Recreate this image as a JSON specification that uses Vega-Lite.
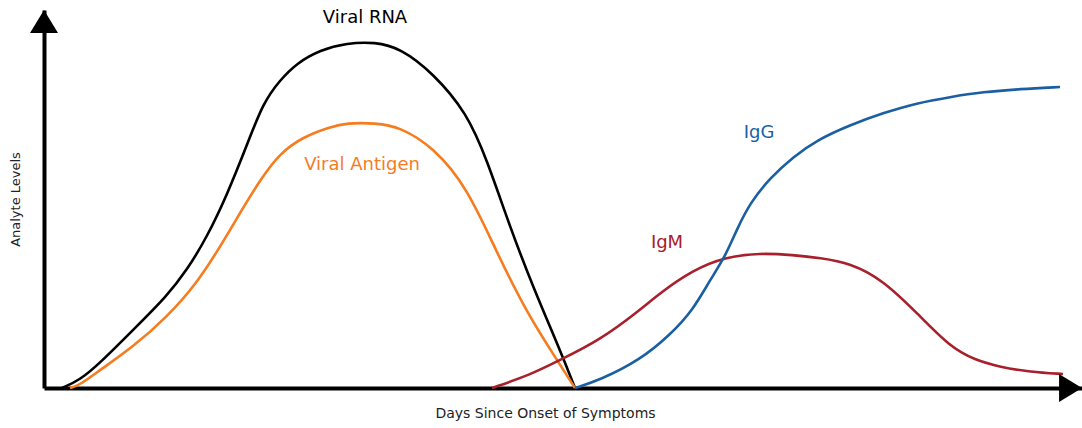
{
  "$schema": "https://vega.github.io/schema/vega-lite/v6.json",
  "width": 1038,
  "height": 378,
  "autosize": {"type": "none"},
  "padding": {"left": 44, "top": 10, "right": 0, "bottom": 40},
  "background": "white",
  "config": {"view": {"stroke": null}, "font": "DejaVu Sans"},
  "datasets": {
    "curves": [
      {"series": "Viral RNA", "day": 18, "level": 0},
      {"series": "Viral RNA", "day": 36, "level": 8},
      {"series": "Viral RNA", "day": 56, "level": 25},
      {"series": "Viral RNA", "day": 89, "level": 58},
      {"series": "Viral RNA", "day": 123, "level": 92},
      {"series": "Viral RNA", "day": 143, "level": 118},
      {"series": "Viral RNA", "day": 163, "level": 151},
      {"series": "Viral RNA", "day": 183, "level": 193},
      {"series": "Viral RNA", "day": 203, "level": 243},
      {"series": "Viral RNA", "day": 219, "level": 285},
      {"series": "Viral RNA", "day": 236, "level": 308},
      {"series": "Viral RNA", "day": 253, "level": 325},
      {"series": "Viral RNA", "day": 276, "level": 338},
      {"series": "Viral RNA", "day": 303, "level": 345},
      {"series": "Viral RNA", "day": 331, "level": 346},
      {"series": "Viral RNA", "day": 356, "level": 340},
      {"series": "Viral RNA", "day": 389, "level": 315},
      {"series": "Viral RNA", "day": 423, "level": 275},
      {"series": "Viral RNA", "day": 443, "level": 228},
      {"series": "Viral RNA", "day": 466, "level": 161},
      {"series": "Viral RNA", "day": 489, "level": 101},
      {"series": "Viral RNA", "day": 516, "level": 38},
      {"series": "Viral RNA", "day": 531, "level": 0},
      {"series": "Viral Antigen", "day": 26, "level": 0},
      {"series": "Viral Antigen", "day": 36, "level": 3},
      {"series": "Viral Antigen", "day": 56, "level": 18},
      {"series": "Viral Antigen", "day": 89, "level": 41},
      {"series": "Viral Antigen", "day": 123, "level": 71},
      {"series": "Viral Antigen", "day": 153, "level": 105},
      {"series": "Viral Antigen", "day": 176, "level": 141},
      {"series": "Viral Antigen", "day": 196, "level": 175},
      {"series": "Viral Antigen", "day": 216, "level": 208},
      {"series": "Viral Antigen", "day": 236, "level": 235},
      {"series": "Viral Antigen", "day": 259, "level": 251},
      {"series": "Viral Antigen", "day": 286, "level": 261},
      {"series": "Viral Antigen", "day": 303, "level": 265},
      {"series": "Viral Antigen", "day": 331, "level": 265},
      {"series": "Viral Antigen", "day": 356, "level": 261},
      {"series": "Viral Antigen", "day": 389, "level": 241},
      {"series": "Viral Antigen", "day": 423, "level": 201},
      {"series": "Viral Antigen", "day": 453, "level": 135},
      {"series": "Viral Antigen", "day": 483, "level": 75},
      {"series": "Viral Antigen", "day": 513, "level": 28},
      {"series": "Viral Antigen", "day": 531, "level": 0},
      {"series": "IgM", "day": 448, "level": 0},
      {"series": "IgM", "day": 486, "level": 13},
      {"series": "IgM", "day": 516, "level": 28},
      {"series": "IgM", "day": 556, "level": 48},
      {"series": "IgM", "day": 596, "level": 78},
      {"series": "IgM", "day": 616, "level": 95},
      {"series": "IgM", "day": 649, "level": 118},
      {"series": "IgM", "day": 681, "level": 131},
      {"series": "IgM", "day": 716, "level": 135},
      {"series": "IgM", "day": 749, "level": 133},
      {"series": "IgM", "day": 776, "level": 130},
      {"series": "IgM", "day": 806, "level": 125},
      {"series": "IgM", "day": 839, "level": 108},
      {"series": "IgM", "day": 873, "level": 75},
      {"series": "IgM", "day": 906, "level": 41},
      {"series": "IgM", "day": 931, "level": 28},
      {"series": "IgM", "day": 956, "level": 21},
      {"series": "IgM", "day": 986, "level": 16},
      {"series": "IgM", "day": 1019, "level": 14},
      {"series": "IgG", "day": 531, "level": 0},
      {"series": "IgG", "day": 556, "level": 8},
      {"series": "IgG", "day": 596, "level": 28},
      {"series": "IgG", "day": 626, "level": 53},
      {"series": "IgG", "day": 649, "level": 78},
      {"series": "IgG", "day": 666, "level": 108},
      {"series": "IgG", "day": 681, "level": 131},
      {"series": "IgG", "day": 693, "level": 159},
      {"series": "IgG", "day": 706, "level": 185},
      {"series": "IgG", "day": 726, "level": 210},
      {"series": "IgG", "day": 749, "level": 231},
      {"series": "IgG", "day": 773, "level": 248},
      {"series": "IgG", "day": 806, "level": 263},
      {"series": "IgG", "day": 839, "level": 275},
      {"series": "IgG", "day": 873, "level": 285},
      {"series": "IgG", "day": 906, "level": 291},
      {"series": "IgG", "day": 939, "level": 296},
      {"series": "IgG", "day": 976, "level": 299},
      {"series": "IgG", "day": 1016, "level": 301}
    ],
    "labels": [
      {"series": "Viral RNA", "label": "Viral RNA", "day": 321, "level": 370},
      {"series": "Viral Antigen", "label": "Viral Antigen", "day": 318, "level": 223},
      {"series": "IgG", "label": "IgG", "day": 715, "level": 255},
      {"series": "IgM", "label": "IgM", "day": 623, "level": 145}
    ]
  },
  "layer": [
    {
      "data": {"name": "curves"},
      "mark": {"type": "line", "interpolate": "basis", "strokeWidth": 2.6},
      "encoding": {
        "x": {
          "field": "day", "type": "quantitative",
          "scale": {"domain": [0, 1038], "nice": false, "zero": false},
          "axis": {
            "title": "Days Since Onset of Symptoms",
            "labels": false, "ticks": false, "grid": false,
            "domainColor": "black", "domainWidth": 4,
            "titleFont": "DejaVu Sans", "titleFontSize": 14, "titleFontWeight": "normal",
            "titleColor": "#222", "titleX": 501, "titleY": 25,
            "titleAlign": "center", "titleBaseline": "middle"
          }
        },
        "y": {
          "field": "level", "type": "quantitative",
          "scale": {"domain": [0, 378], "nice": false, "zero": false},
          "axis": {
            "title": "Analyte Levels",
            "labels": false, "ticks": false, "grid": false,
            "domainColor": "black", "domainWidth": 4,
            "titleFont": "DejaVu Sans", "titleFontSize": 13, "titleFontWeight": "normal",
            "titleColor": "#222", "titleX": -29, "titleY": 189,
            "titleAngle": 270, "titleAlign": "center", "titleBaseline": "middle"
          }
        },
        "color": {
          "field": "series", "type": "nominal", "legend": null,
          "scale": {
            "domain": ["Viral RNA", "Viral Antigen", "IgM", "IgG"],
            "range": ["#000000", "#f57c1f", "#a8202c", "#1b5fa3"]
          }
        },
        "detail": {"field": "series"}
      }
    },
    {
      "data": {"name": "labels"},
      "mark": {"type": "text", "font": "DejaVu Sans", "fontSize": 18, "align": "center", "baseline": "middle"},
      "encoding": {
        "x": {"field": "day", "type": "quantitative"},
        "y": {"field": "level", "type": "quantitative"},
        "text": {"field": "label"},
        "color": {"field": "series", "type": "nominal", "legend": null}
      }
    },
    {
      "data": {"values": [{}]},
      "mark": {"type": "point", "shape": "M0,0L-1,1.64L1,1.64Z", "size": 784, "filled": true, "color": "black", "opacity": 1},
      "encoding": {"x": {"datum": 0}, "y": {"datum": 378}}
    },
    {
      "data": {"values": [{}]},
      "mark": {"type": "point", "shape": "M0,0L-1.64,-1L-1.64,1Z", "size": 784, "filled": true, "color": "black", "opacity": 1},
      "encoding": {"x": {"datum": 1038}, "y": {"datum": 0}}
    }
  ]
}
